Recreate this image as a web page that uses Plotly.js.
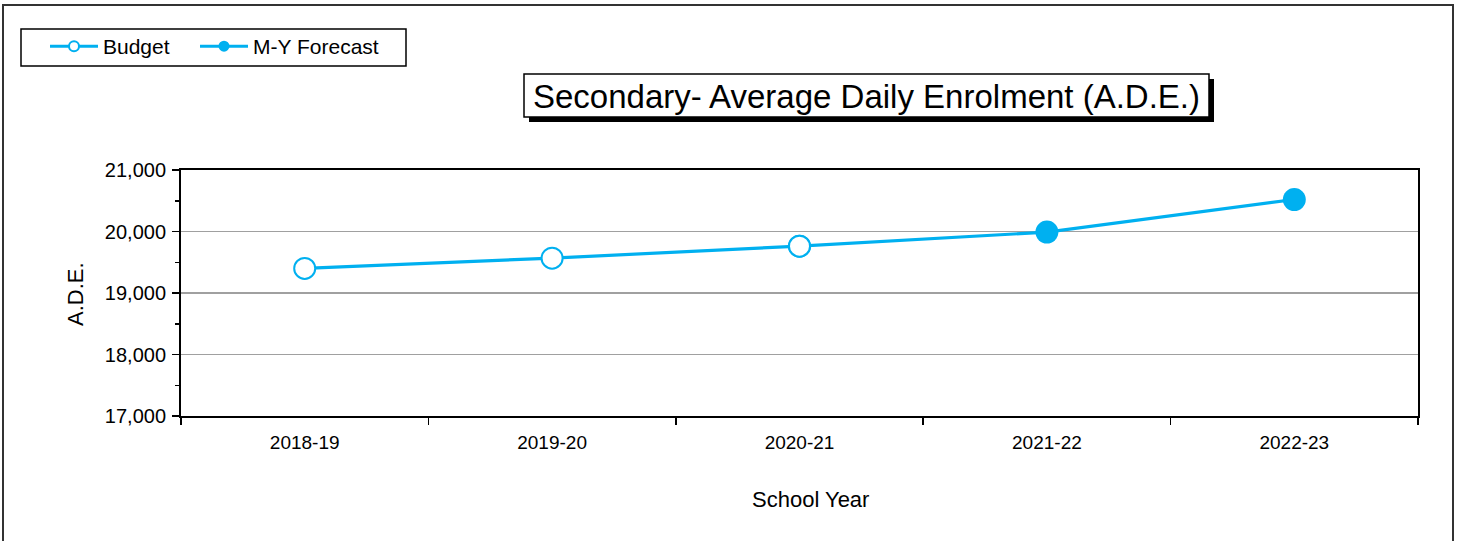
<!DOCTYPE html>
<html>
<head>
<meta charset="utf-8">
<script src="https://cdn.plot.ly/plotly-3.0.1.min.js"></script>
<style>
html,body{margin:0;padding:0;background:#fff;}
#chart{width:1460px;height:541px;}
</style>
</head>
<body>
<div id="chart"></div>
<script>
// ---- data ----
const years = ["2018-19", "2019-20", "2020-21", "2021-22", "2022-23"];
const budget = [19400, 19567, 19762, null, null];
const forecast = [null, null, 19762, 19990, 20520];
const yTicks = [17000, 18000, 19000, 20000, 21000];
const titleText = "Secondary- Average Daily Enrolment (A.D.E.)";
const xTitle = "School Year";
const yTitle = "A.D.E.";
const legendNames = ["Budget", "M-Y Forecast"];

const BLUE = "#00B0F0";
const FONT = "Liberation Sans, Arial, sans-serif";

// plot area in px: l=181, r=1418, t=170, b=416
const L = 181, R = 1418, T = 170, B = 416;
const W = R - L, H = B - T;
const px = x => (x - L) / W;
const py = y => (B - y) / H;

const traces = [
  { x: years, y: forecast, type: "scatter", mode: "lines+markers", showlegend: false,
    line: { color: BLUE, width: 3.2 }, marker: { color: BLUE, size: 23 }, hoverinfo: "y" },
  { x: years, y: budget, type: "scatter", mode: "lines+markers", showlegend: false,
    line: { color: BLUE, width: 3.2 },
    marker: { color: "#ffffff", size: 21, line: { color: BLUE, width: 2 } }, hoverinfo: "y" },
  // legend-only entries
  { x: [null], y: [null], type: "scatter", mode: "lines+markers", name: legendNames[0],
    legend: "legend",
    line: { color: BLUE, width: 3 },
    marker: { color: "#ffffff", size: 10, line: { color: BLUE, width: 2 } } },
  { x: [null], y: [null], type: "scatter", mode: "lines+markers", name: legendNames[1],
    legend: "legend2",
    line: { color: BLUE, width: 3 }, marker: { color: BLUE, size: 11 } }
];

const legendBase = {
  orientation: "h", xanchor: "left", yanchor: "top",
  borderwidth: 0, bgcolor: "rgba(0,0,0,0)",
  font: { family: FONT, size: 21, color: "#000000" },
  itemwidth: 48, tracegroupgap: 0
};

const layout = {
  width: 1460, height: 541,
  margin: { l: L, r: 1460 - R, t: T, b: 541 - B, pad: 0 },
  paper_bgcolor: "#ffffff", plot_bgcolor: "#ffffff",
  font: { family: FONT, color: "#000000", size: 19 },
  showlegend: true,
  legend: Object.assign({}, legendBase, { x: px(45), y: py(26) }),
  legend2: Object.assign({}, legendBase, { x: px(195), y: py(26) }),
  xaxis: {
    type: "category", categoryorder: "array", categoryarray: years,
    range: [-0.5, 4.5], autorange: false,
    showline: true, linecolor: "#000000", linewidth: 2, mirror: true,
    ticks: "outside", tickson: "boundaries", ticklen: 7, tickwidth: 1.5, tickcolor: "#000000",
    showgrid: false, zeroline: false,
    tickfont: { family: FONT, size: 19 }, ticklabelstandoff: 8, fixedrange: true
  },
  yaxis: {
    range: [17000, 21000], autorange: false, tickvals: yTicks, tickformat: ",d",
    showline: true, linecolor: "#000000", linewidth: 2, mirror: true,
    ticks: "outside", ticklen: 7, tickwidth: 1.5, tickcolor: "#000000",
    minor: { dtick: 500, tick0: 17000, ticks: "outside", ticklen: 4, tickwidth: 1.5, tickcolor: "#000000", showgrid: false },
    showgrid: true, gridcolor: "#A0A0A0", gridwidth: 1.5, zeroline: false,
    tickfont: { family: FONT, size: 20 }, ticklabelstandoff: 2, fixedrange: true
  },
  shapes: [
    // outer frame
    { type: "rect", xref: "paper", yref: "paper", layer: "below",
      x0: px(3), x1: px(1453), y0: py(546), y1: py(5),
      line: { color: "#333333", width: 2 }, fillcolor: "rgba(0,0,0,0)" },
    // legend box
    { type: "rect", xref: "paper", yref: "paper", layer: "below",
      x0: px(21), x1: px(406), y0: py(66), y1: py(29),
      line: { color: "#000000", width: 1.5 }, fillcolor: "#ffffff" },
    // title shadow
    { type: "rect", xref: "paper", yref: "paper", layer: "above",
      x0: px(529), x1: px(1214), y0: py(122), y1: py(79),
      line: { width: 0 }, fillcolor: "#000000" },
    // title box
    { type: "rect", xref: "paper", yref: "paper", layer: "above",
      x0: px(524), x1: px(1209), y0: py(117), y1: py(74),
      line: { color: "#000000", width: 1.5 }, fillcolor: "#ffffff" }
  ],
  annotations: [
    { text: titleText, xref: "paper", yref: "paper", x: px(866.5), y: py(96),
      xanchor: "center", yanchor: "middle", showarrow: false,
      font: { family: FONT, size: 33, color: "#000000" } },
    { text: xTitle, xref: "paper", yref: "paper", x: px(810), y: py(499),
      xanchor: "center", yanchor: "middle", showarrow: false,
      font: { family: FONT, size: 22, color: "#000000" } },
    { text: yTitle, xref: "paper", yref: "paper", x: px(75), y: py(294),
      xanchor: "center", yanchor: "middle", showarrow: false, textangle: -90,
      font: { family: FONT, size: 22, color: "#000000" } }
  ]
};

Plotly.newPlot("chart", traces, layout, { displayModeBar: false, staticPlot: true });
</script>
</body>
</html>
